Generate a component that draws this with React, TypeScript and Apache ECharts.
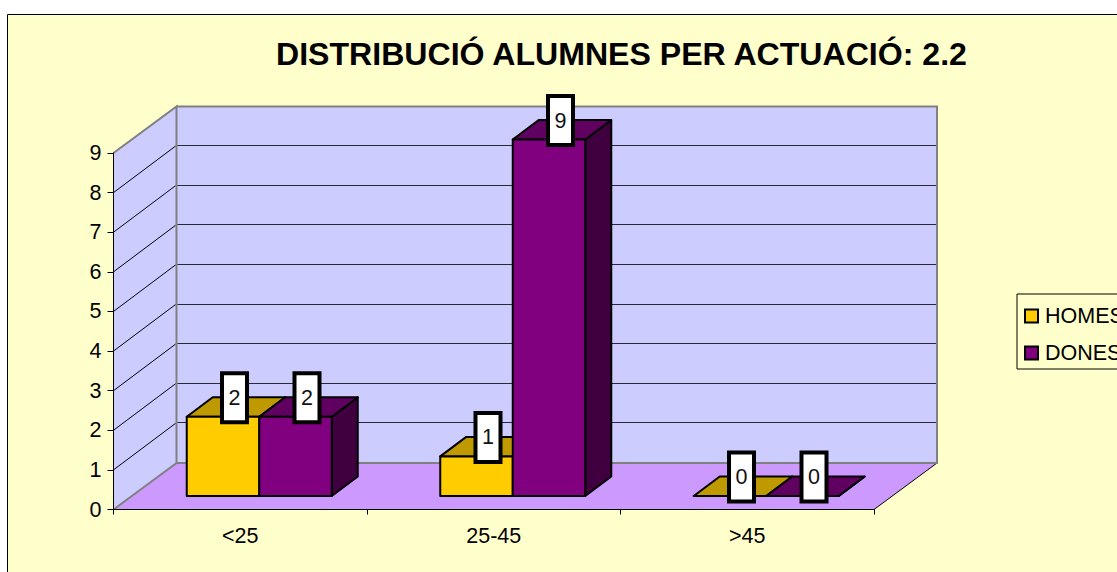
import React, { useEffect, useRef } from "react";
import * as echarts from "echarts";

const categories = ["<25", "25-45", ">45"];
const homes = [2, 1, 0];
const dones = [2, 9, 0];
const yMax = 9;
const gridValues = [1, 2, 3, 4, 5, 6, 7, 8];
const titleText = "DISTRIBUCIÓ ALUMNES PER ACTUACIÓ: 2.2";

const FONT = '"Liberation Sans", Arial, sans-serif';
const WALL_DX = 63;
const WALL_DY = -46.5;
const BAR_OFF_X = 19;
const BAR_OFF_Y = -13.5;
const BAR_DX = 26;
const BAR_DY = -19.5;
const BAR_BAND = 0.286;

function barRender(side: number, front: string, top: string, right: string) {
  return (_params: any, api: any) => {
    const cat = api.value(0);
    const val = api.value(1);
    const [cx, yTop] = api.coord([cat, val]);
    const [, yBase] = api.coord([cat, 0]);
    const w = api.size([1, 0])[0] * BAR_BAND;
    const x0 = cx + (side < 0 ? -w : 0) + BAR_OFF_X;
    const x1 = x0 + w;
    const yt = yTop + BAR_OFF_Y;
    const yb = yBase + BAR_OFF_Y;
    const line = { stroke: "#000", lineWidth: 2, lineJoin: "round" };
    const mid = (x0 + x1) / 2 + 11.5;
    const my = yt - 19;
    return {
      type: "group",
      children: [
        { type: "polygon", shape: { points: [[x1, yb], [x1 + BAR_DX, yb + BAR_DY], [x1 + BAR_DX, yt + BAR_DY], [x1, yt]] }, style: { fill: right, ...line } },
        { type: "polygon", shape: { points: [[x0, yt], [x1, yt], [x1 + BAR_DX, yt + BAR_DY], [x0 + BAR_DX, yt + BAR_DY]] }, style: { fill: top, ...line } },
        { type: "polygon", shape: { points: [[x0, yb], [x1, yb], [x1, yt], [x0, yt]] }, style: { fill: front, ...line } },
        { type: "rect", z2: 20, shape: { x: mid - 12.5, y: my - 24.5, width: 25, height: 49 }, style: { fill: "#fff", stroke: "#000", lineWidth: 4 } },
        { type: "text", z2: 21, x: mid, y: my, style: { text: String(val), font: `21.5px ${FONT}`, fill: "#111", align: "center", verticalAlign: "middle" } },
      ],
    };
  };
}

function stageRender(params: any, api: any) {
  const c = params.coordSys;
  const L = c.x, R = c.x + c.width, T = c.y, B = c.y + c.height;
  const grey = { stroke: "#808080", lineWidth: 2 };
  return {
    type: "group",
    children: [
      { type: "polygon", shape: { points: [[L, B], [L + WALL_DX, B + WALL_DY], [L + WALL_DX, T + WALL_DY], [L, T]] }, style: { fill: "#CCCCFF" } },
      { type: "polygon", shape: { points: [[L + WALL_DX, T + WALL_DY], [R + WALL_DX, T + WALL_DY], [R + WALL_DX, B + WALL_DY], [L + WALL_DX, B + WALL_DY]] }, style: { fill: "#CCCCFF" } },
      { type: "polygon", shape: { points: [[L, B], [L + WALL_DX, B + WALL_DY], [R + WALL_DX, B + WALL_DY], [R, B]] }, style: { fill: "#CC99FF" } },
      { type: "line", z2: 5, shape: { x1: R, y1: B, x2: R + WALL_DX, y2: B + WALL_DY }, style: { stroke: "#000", lineWidth: 1 } },
      { type: "polyline", z2: 6, shape: { points: [[L, B], [L + WALL_DX, B + WALL_DY], [L + WALL_DX, T + WALL_DY], [L, T]] }, style: { fill: "none", ...grey } },
      { type: "polyline", z2: 6, shape: { points: [[L + WALL_DX, B + WALL_DY], [R + WALL_DX, B + WALL_DY], [R + WALL_DX, T + WALL_DY], [L + WALL_DX, T + WALL_DY]] }, style: { fill: "none", ...grey } },
    ],
  };
}

function gridRender(params: any, api: any) {
  const c = params.coordSys;
  const L = c.x, R = c.x + c.width;
  const y = api.coord([0, api.value(1)])[1];
  const yb = y + WALL_DY;
  const yLine = Math.round(yb) - 0.5;
  return {
    type: "group",
    children: [
      { type: "line", shape: { x1: L, y1: y, x2: L + WALL_DX - 1, y2: yb }, style: { stroke: "#000", lineWidth: 1 } },
      { type: "line", shape: { x1: L + WALL_DX + 1, y1: yLine, x2: R + WALL_DX - 1, y2: yLine }, style: { stroke: "#000", lineWidth: 1, opacity: 0.8 } },
    ],
  };
}

export default function App() {
  const ref = useRef<HTMLDivElement>(null);
  useEffect(() => {
    const chart = echarts.init(ref.current!, undefined, { renderer: "svg" });
    chart.setOption({
      animation: false,
      backgroundColor: "#fff",
      textStyle: { fontFamily: FONT },
      title: {
        text: titleText,
        left: 276,
        top: 38,
        padding: 0,
        textStyle: { fontFamily: FONT, fontWeight: "bold", fontSize: 32.1, color: "#000" },
      },
      graphic: [
        { type: "rect", z: -10, silent: true, shape: { x: 7.5, y: 14.5, width: 1300, height: 800 }, style: { fill: "#FFFFCC", stroke: "#000", lineWidth: 1 } },
      ],
      legend: {
        orient: "vertical",
        left: 1017,
        top: 294,
        padding: [11, 60, 5, 7],
        itemWidth: 13,
        itemHeight: 13,
        itemGap: 15,
        backgroundColor: "#FFFFCC",
        borderColor: "#000",
        borderWidth: 1,
        borderRadius: 0,
        textStyle: { fontFamily: FONT, fontSize: 21.5, color: "#000", padding: [0, 0, 0, 2] },
        data: [
          { name: "HOMES", icon: "rect", itemStyle: { color: "#FFCC00", borderColor: "#000", borderWidth: 2 } },
          { name: "DONES", icon: "rect", itemStyle: { color: "#800080", borderColor: "#000", borderWidth: 2 } },
        ],
      },
      grid: { left: 113.5, top: 153, width: 760.5, height: 356.5 },
      xAxis: {
        type: "category",
        data: categories,
        z: 3,
        axisLine: { lineStyle: { color: "#000", width: 1 } },
        axisTick: { show: true, length: 5, alignWithLabel: false, lineStyle: { color: "#000" } },
        axisLabel: { color: "#000", fontFamily: FONT, fontSize: 21.5, margin: 15 },
      },
      yAxis: {
        type: "value",
        min: 0,
        max: yMax,
        interval: 1,
        z: 3,
        axisLine: { show: true, lineStyle: { color: "#000", width: 1 } },
        axisTick: { show: true, length: 6, lineStyle: { color: "#000" } },
        axisLabel: { color: "#000", fontFamily: FONT, fontSize: 21.5, margin: 12, padding: [0, 0, 4, 0] },
        splitLine: { show: false },
      },
      series: [
        { type: "custom", name: "grid", z: 1, silent: true, clip: false, renderItem: gridRender, encode: { x: 0, y: 1 }, data: gridValues.map((v) => [0, v]) },
        { type: "custom", name: "stage", z: 0.5, silent: true, clip: false, renderItem: stageRender, encode: { x: 0, y: 1 }, data: [[0, 0]] },
        { type: "custom", name: "HOMES", z: 4, silent: true, clip: false, renderItem: barRender(-1, "#FFCC00", "#BF9900", "#7F6600"), encode: { x: 0, y: 1 }, data: homes.map((v, i) => [i, v]) },
        { type: "custom", name: "DONES", z: 5, silent: true, clip: false, renderItem: barRender(1, "#800080", "#600060", "#400040"), encode: { x: 0, y: 1 }, data: dones.map((v, i) => [i, v]) },
      ],
    });
    return () => chart.dispose();
  }, []);
  return <div ref={ref} style={{ position: "fixed", left: 0, top: 0, width: 1117, height: 572 }} />;
}
